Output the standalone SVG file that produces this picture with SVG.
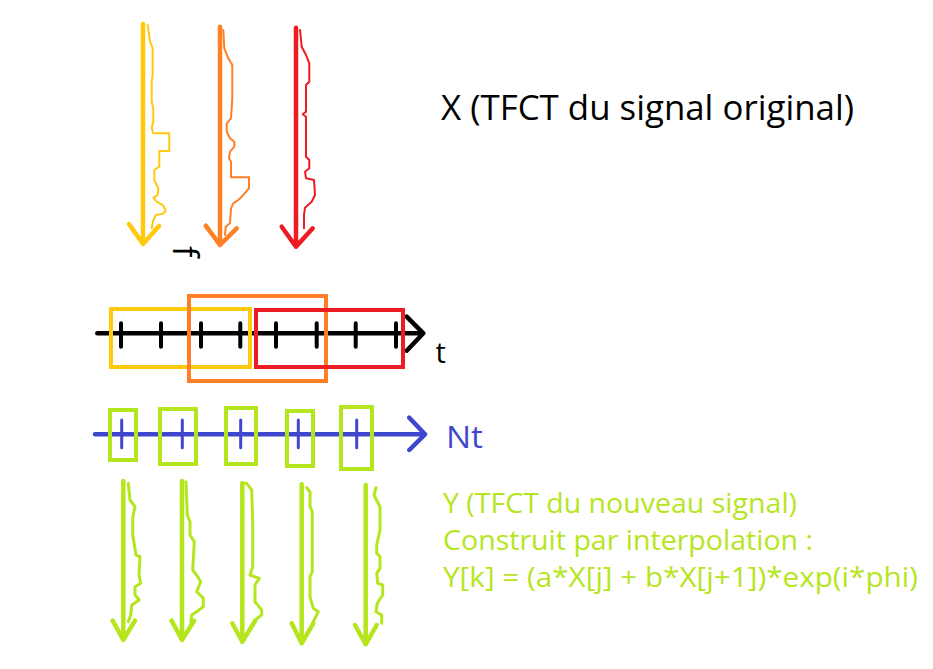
<svg xmlns="http://www.w3.org/2000/svg" width="933" height="669" viewBox="0 0 933 669">
<style>
.arr{fill:none;stroke-width:4.5;stroke-linecap:round;stroke-linejoin:round}
.sq{fill:none;stroke-width:2;stroke-linejoin:round;stroke-linecap:round}
.sqg{fill:none;stroke:#b5e61d;stroke-width:3;stroke-linejoin:round;stroke-linecap:round}
.box{fill:none;stroke-width:4}
.y{stroke:#ffc90e}.o{stroke:#ff7f27}.r{stroke:#ed1c24}.g{stroke:#b5e61d}.b{stroke:#3f48cc}.k{stroke:#000}
.txt{font-family:"Open Sans","Liberation Sans",Arial,sans-serif}
</style>
<defs>
<clipPath id="fclip"><rect x="150" y="230" width="80" height="29.5"/></clipPath>
</defs>
<rect width="933" height="669" fill="#fff"/>

<g id="spectre-jaune">
<path class="arr y" d="M143,24 V244 M129,224 L143,244 L159,226"/>
<path class="sq y" d="M147.7,25 L150,41.7 L152.7,48 L152.7,75 L151.7,81.7 L151.7,101.7 L153.3,108.3 L153.3,121.7 L151.7,128.3 L153.3,133.3 L169.3,133.3 L169.3,151 L159.3,151 L159.3,166.7 L154.3,170 L154.3,180 L158.3,188.3 L157.7,195 L153.3,197.7 L156.7,201.7 L163.3,205.7 L165.7,211 L162.7,213.7 L156,215 L153.3,220 L151.7,228.3"/>
</g>
<g id="spectre-orange">
<path class="arr o" d="M220,26.7 V245 M205.7,225.7 L220,245 L236.7,228.3"/>
<path class="sq o" d="M223.3,30 L224.3,48.3 L228.3,58.3 L232.3,65 L232.3,98.3 L231,118.3 L226.7,123.3 L226.7,131.7 L230,138.3 L234.3,141.7 L234.3,146.7 L230,151.7 L229,158.3 L231,161.7 L231,177.3 L249,177.3 L249,188.3 L241.7,196.7 L238.3,200 L233.3,203.3 L231,208.3 L230,223.3 L225.7,226.7 L225,235"/>
</g>
<g id="spectre-rouge">
<path class="arr r" d="M296,27.7 V246.7 M281.7,226.7 L296,246.7 L312.7,228.3"/>
<path class="sq r" d="M300,30 L301.7,46.7 L306,55 L309.3,63.3 L309.3,81.7 L306,85 L306,111.7 L302.7,114.3 L306,116.7 L306,156.7 L309.3,160 L309.3,168.3 L305,171.7 L306,178.3 L314,180 L315,195 L311.7,201.7 L305,207.7 L304,215 L304,228.3"/>
</g>
<g id="label-f" clip-path="url(#fclip)">
<text class="txt" font-size="34" fill="#000" transform="translate(173,246) rotate(90)">f</text>
</g>

<g id="label-X">
<text class="txt" x="441" y="120" font-size="34" fill="#000" textLength="413" lengthAdjust="spacingAndGlyphs">X (TFCT du signal original)</text>
</g>

<g id="axe-t">
<path class="arr k" d="M97.3,333.3 H423.3 M406.7,316.7 L423.3,333.3 L406.7,350.7"/>
<path class="k" stroke-width="4" stroke-linecap="round" d="M121,323.3 V346.7 M161,323.3 V346.7 M201,323.3 V346.7 M240.3,323.3 V346.7 M276,323.3 V346.7 M316.7,323.3 V346.7 M355.7,323.3 V346.7 M396,323.3 V346.7"/>
<text class="txt" x="435.5" y="363.3" font-size="29" fill="#000">t</text>
</g>
<g id="fenetre-jaune"><rect class="box y" x="111" y="309" width="139" height="58"/></g>
<g id="fenetre-orange"><rect class="box o" x="189" y="296" width="137" height="85"/></g>
<g id="fenetre-rouge"><rect class="box r" x="256" y="310" width="147" height="57"/></g>

<g id="axe-Nt">
<path class="arr b" stroke-width="3.5" d="M95,434.3 H425 M409.3,417.7 L425,434.3 L409.3,450"/>
<path class="b" stroke-width="3" stroke-linecap="round" d="M121.7,420 V447.7 M182.3,420 V447.7 M240.7,420 V447.7 M298.3,420 V447.7 M356.7,420 V447.7"/>
<text class="txt" x="446" y="448.3" font-size="31" fill="#3f48cc" textLength="37" lengthAdjust="spacingAndGlyphs">Nt</text>
</g>
<g id="trame-1"><rect class="box g" x="110" y="410" width="26" height="50"/></g>
<g id="trame-2"><rect class="box g" x="160" y="409" width="36" height="55"/></g>
<g id="trame-3"><rect class="box g" x="226" y="408" width="30" height="56"/></g>
<g id="trame-4"><rect class="box g" x="287" y="411" width="26" height="55"/></g>
<g id="trame-5"><rect class="box g" x="341" y="407" width="31" height="62"/></g>

<g id="spectre-vert-1">
<path class="arr g" d="M123.3,481 V640 M112.7,620.7 L123.3,640 L135,620.7"/>
<path class="sqg" d="M128.3,483.3 L130,500 L135,506.7 L132.7,518.3 L132.7,535 L136,555 L140,556.7 L139,575 L140.7,583.3 L135,586.7 L135,595 L139.3,600 L131.7,605 L130.7,615 L128.3,621.7"/>
</g>
<g id="spectre-vert-2">
<path class="arr g" d="M182,481 V640 M171.7,620.7 L182,640 L194,620.7"/>
<path class="sqg" d="M186,481.7 L187.3,515 L190,521.7 L190,535 L194.3,541.7 L192.7,570 L197.7,576.7 L200.7,581.7 L196.7,591.7 L203.3,598.3 L203.3,606.7 L196.7,611.7 L191.7,615 L190.7,621.7"/>
</g>
<g id="spectre-vert-3">
<path class="arr g" d="M242.3,483.3 V641.7 M232.3,623.3 L242.3,641.7 L255,621"/>
<path class="sqg" d="M242.3,483.3 L246.7,483.3 L251.7,490 L252.7,521.7 L252.7,566.7 L250,575 L259.3,578.3 L255,585 L255,601.7 L261.7,610 L261.7,615 L255,620"/>
</g>
<g id="spectre-vert-4">
<path class="arr g" d="M301.7,484.3 V643.3 M291.7,623.3 L301.7,643.3 L313.3,623.3"/>
<path class="sqg" d="M306.7,487.7 L310,491.7 L310,506.7 L312.3,511.7 L312.3,571.7 L310,576.7 L310,596.7 L313.3,608.3 L318.3,611.7 L313.3,621.7"/>
</g>
<g id="spectre-vert-5">
<path class="arr g" d="M365.7,485 V644.3 M355,625 L365.7,644.3 L376.7,625"/>
<path class="sqg" d="M376,487.7 L374,495 L380,506.7 L380,530 L376.7,545 L376.7,553.3 L380,556.7 L380,568.3 L376.7,573.3 L377.7,583.3 L382.7,585 L382.7,595 L377.3,603.3 L376,611.7 L381.7,615 L381.7,623.3"/>
</g>

<g id="label-Y" class="txt" font-size="28" fill="#b5e61d">
<text x="443" y="513.3" textLength="354" lengthAdjust="spacingAndGlyphs">Y (TFCT du nouveau signal)</text>
<text x="443" y="550" textLength="370" lengthAdjust="spacingAndGlyphs">Construit par interpolation :</text>
<text x="443" y="586.5" textLength="475" lengthAdjust="spacingAndGlyphs">Y[k] = (a*X[j] + b*X[j+1])*exp(i*phi)</text>
</g>
</svg>
